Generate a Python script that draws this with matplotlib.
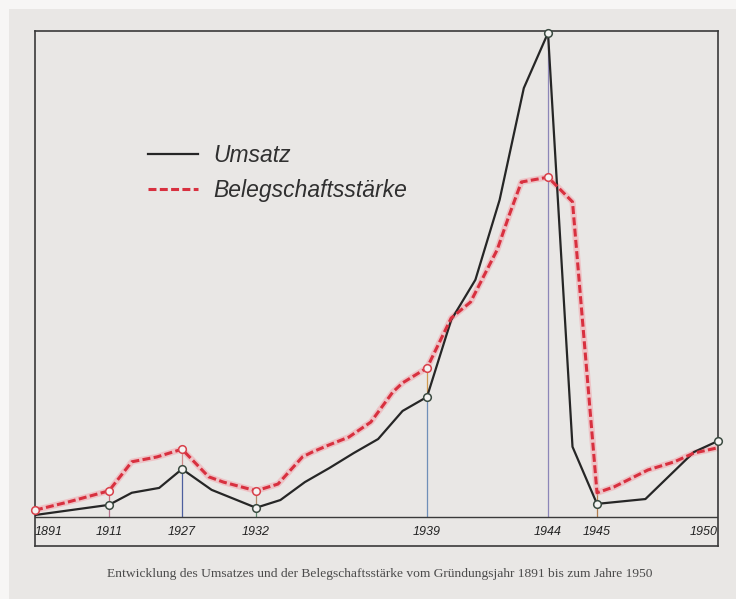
import numpy as np
import matplotlib.pyplot as plt
from matplotlib.patches import Rectangle

# Jahre mit Beschriftung auf der Achse
tick_years = [1891, 1911, 1927, 1932, 1939, 1944, 1945, 1950]
tick_labels = ['1891', '1911', '1927', '1932', '1939', '1944', '1945', '1950']

# Umsatz (relativ, Spitze 1944 = 100)
umsatz_years = [1891, 1911, 1916, 1922, 1927, 1929, 1932, 1933, 1934, 1935, 1936,
                1937, 1938, 1939, 1940, 1941, 1942, 1943, 1944, 1944.5, 1945,
                1947, 1949, 1950]
umsatz = [0.4, 2.5, 5.0, 6.0, 9.9, 5.6, 1.9, 3.5, 7.2, 10.1, 13.2,
          16.1, 21.9, 24.8, 40.7, 49.0, 65.5, 88.6, 100.0, 14.5, 2.7,
          3.7, 13.4, 15.7]

# Belegschaftsstaerke (gleiche relative Skala)
beleg_years = [1891, 1900, 1911, 1916, 1921.5, 1927, 1928.8, 1929.8, 1932, 1932.9,
               1933.9, 1934.3, 1935, 1935.8, 1936.7, 1937.6, 1938, 1939, 1940,
               1940.8, 1941.9, 1942.4, 1942.9, 1944, 1944.5, 1945, 1945.7,
               1947.1, 1948.2, 1949, 1950]
beleg = [1.4, 3.1, 5.4, 11.4, 12.4, 14.0, 8.3, 7.2, 5.4, 6.8,
         12.4, 13.4, 14.9, 16.5, 19.6, 25.8, 27.7, 30.8, 41.1,
         44.4, 55.2, 62.4, 69.2, 70.2, 65.1, 5.0, 6.2,
         9.7, 11.4, 13.2, 14.3]

umsatz_marks = [1911, 1927, 1932, 1939, 1944, 1945, 1950]
beleg_marks = [1891, 1911, 1927, 1932, 1939, 1944]

# die Zeitachse ist nicht gleichmaessig geteilt
axis_pos = [0, 74, 147, 221, 392, 513, 562, 683]

def fwd(x):
    return np.interp(x, tick_years, axis_pos)

def inv(x):
    return np.interp(x, axis_pos, tick_years)

paper = '#e9e7e5'
fig = plt.figure(figsize=(7.36, 5.99), dpi=100, facecolor='#f7f6f5')
fig.patches.append(Rectangle((9 / 736, 0), 1, 1 - 9 / 599, transform=fig.transFigure,
                             facecolor=paper, edgecolor='none', zorder=-10))

ax = fig.add_axes([35 / 736, 1 - 546 / 599, 683 / 736, 515 / 599])
ax.set_facecolor(paper)
ax.set_xscale('function', functions=(fwd, inv))
ax.set_xlim(1891, 1950)
ax.set_ylim(-6.0, 100.4)
ax.set_xticks([])
ax.set_yticks([])
for s in ax.spines.values():
    s.set_color('#3a3a3a')
    s.set_linewidth(1.2)

ax.axhline(0, color='#3a3a3a', lw=1.0)

# senkrechte Hilfslinien bis zu den Markierungen
u_at = dict(zip(umsatz_years, umsatz))
b_at = dict(zip(beleg_years, beleg))
low_cols = ['#b8748e', '#b8748e', '#4d5f9e', '#5c8a6e', '#6f8fb8', '#8c86b8', '#b07c4c', '#5a78b0']
up_cols = ['#c9707e', '#c9707e', '#d08a8a', '#b08a6a', '#d09a50', '#b8b070', '#b07c4c', '#5a78b0']
for yr, c1, c2 in zip(tick_years, low_cols, up_cols):
    u = u_at.get(yr, 0)
    b = b_at.get(yr, 0)
    ax.vlines(yr, 0, u, color=c1, lw=0.9, zorder=1)
    if b > u:
        ax.vlines(yr, u, b, color=c2, lw=0.9, zorder=1)

ax.plot(beleg_years, beleg, color='#f2a0a8', lw=4.5, alpha=0.5, zorder=2)
ax.plot(umsatz_years, umsatz, color='#262626', lw=1.6, zorder=3, label='Umsatz')
ax.plot(beleg_years, beleg, color='#d8303f', lw=2.2, dashes=(2.6, 1.1), zorder=4,
        label='Belegschaftsstärke')

ax.plot(umsatz_marks, [u_at[y] for y in umsatz_marks], 'o', ms=5.5, mfc='#f4f3f2',
        mec='#3a4a40', mew=1.1, zorder=5, clip_on=False)
ax.plot(beleg_marks, [b_at[y] for y in beleg_marks], 'o', ms=5.5, mfc='#f4f3f2',
        mec='#d8404a', mew=1.1, zorder=5, clip_on=False)

for i, (yr, lab) in enumerate(zip(tick_years, tick_labels)):
    ha = 'center'
    if i == 0:
        ha = 'left'
    elif i == len(tick_years) - 1:
        ha = 'right'
    ax.text(yr, -3.1, lab, ha=ha, va='center', fontsize=9, style='italic',
            family='Liberation Sans', color='#222222')

leg = ax.legend(loc='upper left', bbox_to_anchor=(0.165, 0.78), frameon=False,
                prop={'family': 'Liberation Sans', 'style': 'italic', 'size': 16.5},
                handlelength=2.2, handletextpad=0.65, labelspacing=0.5,
                borderpad=0, borderaxespad=0)
for t in leg.get_texts():
    t.set_color('#303030')

fig.text(380 / 736, 1 - 574 / 599,
         'Entwicklung des Umsatzes und der Belegschaftsstärke vom Gründungsjahr 1891 bis zum Jahre 1950',
         ha='center', va='center', fontsize=9.7, family='Liberation Serif', color='#4a4a4a')

fig.savefig('out.png', dpi=100, facecolor=fig.get_facecolor())
